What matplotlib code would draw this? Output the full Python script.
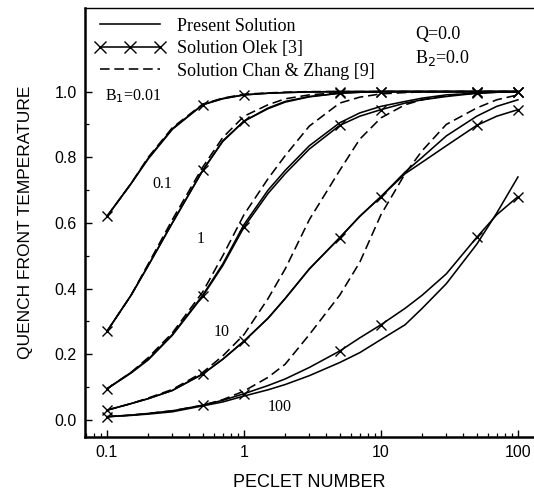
import numpy as np
import matplotlib
matplotlib.use("Agg")
import matplotlib.pyplot as plt
from matplotlib.lines import Line2D
from matplotlib.ticker import FixedLocator, NullFormatter, LogLocator

SERIF = "Liberation Serif"
SANS = "Liberation Sans"

# Peclet numbers (common grid), Olek markers at 0.1, 0.5, 1, 5, 10, 50, 100
pe = [0.1, 0.15, 0.2, 0.3, 0.5, 0.7, 1, 1.5, 2, 3, 5, 7, 10, 15, 20, 30, 50, 70, 100]
olek_marks = [0, 4, 6, 10, 12, 16, 18]

# B1 = 0.01
present_001 = [0.62, 0.72, 0.795, 0.885, 0.96, 0.978, 0.99, 0.995, 0.997, 0.999, 1.0, 1.0, 1.0, 1.0, 1.0, 1.0, 1.0, 1.0, 1.0]
olek_001 = [0.62, 0.72, 0.797, 0.887, 0.96, 0.979, 0.99, 0.995, 0.997, 0.999, 1.0, 1.0, 1.0, 1.0, 1.0, 1.0, 1.0, 1.0, 1.0]
chan_001 = [0.62, 0.72, 0.80, 0.89, 0.962, 0.98, 0.992, 0.996, 0.998, 1.0, 1.0, 1.0, 1.0, 1.0, 1.0, 1.0, 1.0, 1.0, 1.0]

# B1 = 0.1
present_01 = [0.27, 0.38, 0.47, 0.60, 0.76, 0.85, 0.91, 0.95, 0.97, 0.985, 0.995, 0.998, 1.0, 1.0, 1.0, 1.0, 1.0, 1.0, 1.0]
olek_01 = [0.27, 0.38, 0.47, 0.60, 0.76, 0.848, 0.91, 0.948, 0.968, 0.984, 0.995, 0.998, 1.0, 1.0, 1.0, 1.0, 1.0, 1.0, 1.0]
chan_01 = [0.27, 0.38, 0.475, 0.61, 0.77, 0.86, 0.925, 0.96, 0.978, 0.99, 0.997, 0.999, 1.0, 1.0, 1.0, 1.0, 1.0, 1.0, 1.0]

# B1 = 1
present_1 = [0.095, 0.145, 0.185, 0.26, 0.38, 0.475, 0.595, 0.70, 0.76, 0.835, 0.905, 0.935, 0.955, 0.97, 0.98, 0.99, 0.995, 0.998, 1.0]
olek_1 = [0.095, 0.143, 0.183, 0.258, 0.377, 0.47, 0.587, 0.69, 0.75, 0.825, 0.897, 0.925, 0.945, 0.965, 0.975, 0.985, 0.995, 0.998, 1.0]
chan_1 = [0.095, 0.145, 0.19, 0.265, 0.39, 0.50, 0.625, 0.735, 0.805, 0.895, 0.965, 0.983, 0.993, 0.997, 0.999, 1.0, 1.0, 1.0, 1.0]

# B1 = 10
present_10 = [0.03, 0.05, 0.065, 0.09, 0.14, 0.185, 0.24, 0.31, 0.37, 0.46, 0.555, 0.62, 0.68, 0.755, 0.80, 0.865, 0.925, 0.955, 0.975]
olek_10 = [0.03, 0.05, 0.065, 0.09, 0.14, 0.185, 0.24, 0.31, 0.37, 0.46, 0.555, 0.62, 0.68, 0.75, 0.785, 0.835, 0.897, 0.925, 0.945]
chan_10 = [0.03, 0.05, 0.067, 0.093, 0.145, 0.195, 0.26, 0.37, 0.46, 0.61, 0.76, 0.855, 0.92, 0.96, 0.975, 0.988, 0.996, 0.999, 1.0]

# B1 = 100
present_100 = [0.01, 0.014, 0.018, 0.025, 0.043, 0.055, 0.073, 0.092, 0.108, 0.135, 0.175, 0.205, 0.245, 0.29, 0.34, 0.415, 0.535, 0.63, 0.74]
olek_100 = [0.01, 0.015, 0.02, 0.028, 0.045, 0.06, 0.08, 0.105, 0.125, 0.16, 0.21, 0.25, 0.29, 0.34, 0.38, 0.445, 0.556, 0.625, 0.68]
chan_100 = [0.01, 0.015, 0.02, 0.028, 0.045, 0.062, 0.088, 0.13, 0.17, 0.26, 0.38, 0.48, 0.625, 0.75, 0.82, 0.90, 0.95, 0.975, 0.99]

present = [present_001, present_01, present_1, present_10, present_100]
olek = [olek_001, olek_01, olek_1, olek_10, olek_100]
chan = [chan_001, chan_01, chan_1, chan_10, chan_100]

b1_labels = ["B$_1$=0.01", "0.1", "1", "10", "100"]
b1_label_pos = [(0.097, 0.985), (0.215, 0.72), (0.455, 0.55), (0.60, 0.267), (1.5, 0.04)]

fig = plt.figure(figsize=(5.34, 4.90), dpi=100)
ax = fig.add_axes([0.159, 0.108, 0.841, 0.876])

lw = 1.15
for p, o, c in zip(present, olek, chan):
    ax.plot(pe, c, color="black", lw=lw, dashes=(6, 3))
    ax.plot(pe, p, color="black", lw=lw)
    ax.plot(pe, o, color="black", lw=lw, marker="x", markersize=7,
            markeredgewidth=1.0, markevery=olek_marks)

for txt, (x, y) in zip(b1_labels, b1_label_pos):
    ax.text(x, y, txt, family=SERIF, fontsize=11.5, ha="left", va="center")

ax.text(0.735, 0.937, "Q=0.0", transform=ax.transAxes, family=SERIF, fontsize=13, va="center")
ax.text(0.735, 0.883, "B$_2$=0.0", transform=ax.transAxes, family=SERIF, fontsize=13, va="center")

ax.set_xscale("log")
ax.set_xlim(0.069, 131)
ax.set_ylim(-0.052, 1.255)

ax.xaxis.set_major_locator(FixedLocator([0.1, 1, 10, 100]))
ax.set_xticklabels(["0.1", "1", "10", "100"])
ax.xaxis.set_minor_locator(LogLocator(base=10, subs=np.arange(2, 10)))
ax.xaxis.set_minor_formatter(NullFormatter())
ax.yaxis.set_major_locator(FixedLocator([0.0, 0.2, 0.4, 0.6, 0.8, 1.0]))
ax.set_yticklabels(["0.0", "0.2", "0.4", "0.6", "0.8", "1.0"])
ax.yaxis.set_minor_locator(FixedLocator([0.1, 0.3, 0.5, 0.7, 0.9]))

ax.tick_params(which="major", direction="in", length=5, width=1, labelsize=11.5, pad=6)
ax.tick_params(which="minor", direction="in", length=3, width=0.9)
for lab in ax.get_xticklabels() + ax.get_yticklabels():
    lab.set_family(SANS)

ax.spines["right"].set_visible(False)
ax.spines["left"].set_linewidth(1.8)
ax.spines["bottom"].set_linewidth(1.8)
ax.spines["top"].set_linewidth(1.0)

ax.set_xlabel("PECLET NUMBER", family=SANS, fontsize=13, labelpad=10)
ax.set_ylabel("QUENCH FRONT TEMPERATURE", family=SANS, fontsize=12.5, labelpad=15)

handles = [
    Line2D([], [], color="black", lw=lw),
    Line2D([], [], color="black", lw=lw, marker="x", markersize=9, markeredgewidth=1.0),
    Line2D([], [], color="black", lw=lw, dashes=(6, 3)),
]
labels = ["Present Solution", "Solution Olek [3]", "Solution Chan & Zhang [9]"]
ax.legend(handles, labels, loc="upper left", frameon=False, numpoints=3,
          handlelength=3.9, handletextpad=0.65, labelspacing=0.3,
          borderaxespad=0.15, prop={"family": SERIF, "size": 13})

fig.savefig("out.png", dpi=100)
